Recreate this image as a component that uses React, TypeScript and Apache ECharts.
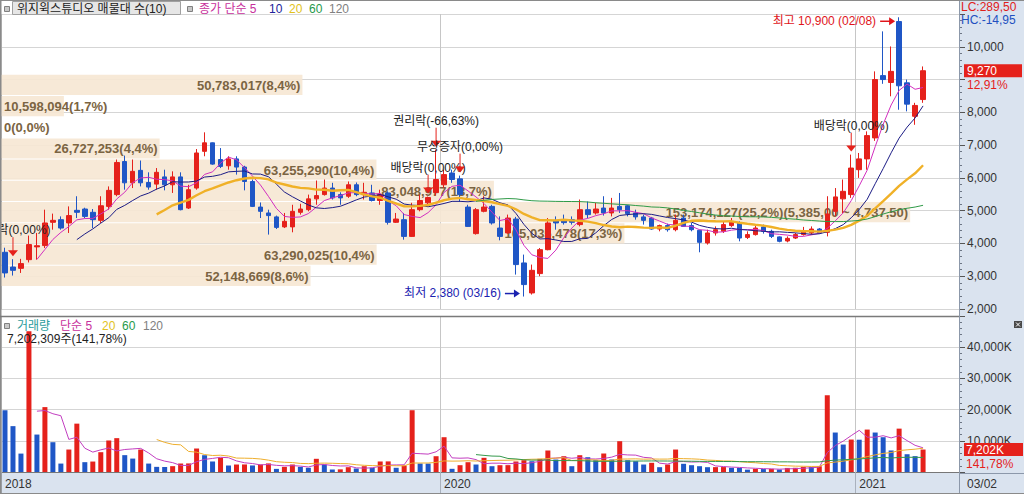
import React, { useEffect, useRef } from "react";
import * as echarts from "echarts";

// ---------- data ----------
const STOCK_NAME = "위지윅스튜디오";
const FIRST_WEEK = "2018-12-17";
const EXTRA_SLOTS = 4;
const LAST_DATE_LABEL = "03/02";

// weekly candles: [open, high, low, close]
const OHLC: number[][] = [
  [3730, 3870, 2960, 3100], [3280, 3520, 3020, 3180], [3240, 3530, 3100, 3385], [3505, 4240, 3420, 3965],
  [3895, 4320, 3505, 3930], [3935, 5030, 3860, 4625], [4645, 4910, 4420, 4705], [4725, 4825, 4420, 4470],
  [4625, 5130, 4320, 4850], [5010, 5440, 4775, 4950], [5050, 5090, 4775, 4825], [4950, 5050, 4470, 4725],
  [4705, 5440, 4625, 5150], [5130, 5740, 5030, 5620], [5490, 6560, 5440, 6470], [6500, 6680, 5640, 5850],
  [5850, 6560, 5690, 6200], [6230, 6530, 5740, 5850], [5860, 6170, 5640, 5720], [5810, 6300, 5640, 6170],
  [6030, 6250, 5620, 5790], [5790, 6200, 5540, 6030], [6030, 6170, 5010, 5030], [5080, 5790, 5050, 5640],
  [5690, 6880, 5640, 6760], [6810, 7390, 6660, 7070], [7070, 7080, 6400, 6420], [6560, 6910, 6300, 6350],
  [6370, 6660, 6250, 6580], [6580, 6660, 6100, 6330], [6330, 6370, 5620, 5890], [5890, 5950, 5110, 5130],
  [5110, 5250, 4775, 4980], [4930, 5030, 4270, 4850], [4810, 4850, 4440, 4490], [4505, 4930, 4470, 4675],
  [4505, 5180, 4340, 4980], [4950, 5210, 4880, 5050], [5030, 5490, 4980, 5360], [5360, 5920, 5180, 5460],
  [5490, 5950, 5460, 5690], [5690, 5850, 5340, 5390], [5490, 5560, 5180, 5390], [5440, 5890, 5390, 5790],
  [5790, 5860, 5440, 5490], [5490, 5850, 5340, 5560], [5540, 5790, 5280, 5310], [5310, 5640, 5180, 5490],
  [5540, 5590, 4575, 4645], [4645, 4930, 4625, 4745], [4725, 4930, 4115, 4215], [4215, 5240, 4200, 5030],
  [5030, 5490, 4980, 5310], [5240, 5430, 5150, 5400], [5550, 6860, 5460, 5950], [5790, 6250, 5700, 6100],
  [6150, 6250, 5850, 5950], [5970, 6070, 5280, 5490], [5110, 5180, 4505, 4520], [4300, 5080, 4270, 5030],
  [4980, 5440, 4950, 5110], [5130, 5180, 4575, 4625], [4470, 4825, 4095, 4215], [4320, 4880, 4300, 4775],
  [4745, 4810, 3050, 3355], [3405, 3660, 2380, 2745], [2490, 3355, 2440, 3180], [3080, 3860, 3000, 3810],
  [3810, 4775, 3790, 4625], [4705, 4825, 4420, 4625], [4725, 4880, 4575, 4635], [4725, 4825, 4575, 4645],
  [4575, 5340, 4520, 5030], [5030, 5280, 4775, 4880], [4930, 5240, 4880, 5050], [5080, 5440, 4850, 4930],
  [4930, 5390, 4825, 5080], [5130, 5540, 4930, 5030], [5150, 5180, 4825, 4910], [4930, 5030, 4725, 4810],
  [4810, 4880, 4575, 4705], [4775, 4810, 4420, 4440], [4440, 4575, 4370, 4545], [4545, 4605, 4360, 4420],
  [4420, 4880, 4370, 4705], [4775, 4880, 4520, 4520], [4545, 4625, 4370, 4420], [4400, 4420, 3730, 4035],
  [4015, 4420, 3965, 4320], [4320, 4520, 4240, 4420], [4370, 4675, 4320, 4575], [4545, 4775, 4505, 4675],
  [4625, 4675, 4065, 4165], [4185, 4370, 4135, 4270], [4270, 4575, 4240, 4470], [4505, 4575, 4300, 4370],
  [4370, 4420, 4165, 4215], [4200, 4215, 4035, 4065], [4075, 4215, 4035, 4155], [4165, 4320, 4135, 4270],
  [4270, 4505, 4240, 4370], [4320, 4520, 4270, 4440], [4440, 4470, 4300, 4320], [4340, 5440, 4215, 4900],
  [4980, 5690, 4825, 5420], [5360, 5950, 4930, 5590], [5490, 6710, 5390, 6300], [6250, 6760, 6000, 6580],
  [6580, 7420, 6250, 7290], [7220, 9250, 7130, 9000], [9120, 10470, 8870, 9000], [8910, 10010, 8490, 9250],
  [10770, 10900, 8080, 8810], [8900, 9000, 8030, 8250], [7880, 8290, 7620, 8210], [8390, 9400, 8290, 9270],
];

// weekly volume, thousand shares
const VOLUME_K: number[] = [
  19800, 14700, 5900, 45100, 12000, 20800, 9550, 2700, 7200, 15500, 3150, 3350, 6350, 10100, 10850, 5400,
  4300, 7200, 2700, 1650, 1600, 1870, 2720, 2750, 7530, 5380, 3370, 4550, 2080, 2400, 2420, 2100,
  2400, 2750, 1000, 1650, 2400, 1650, 1350, 4230, 2400, 800, 850, 1540, 1120, 1860, 1350, 3370,
  3400, 1350, 2080, 19800, 2720, 2700, 5060, 11150, 1020, 2180, 3140, 2400, 4550, 1860, 2180, 2200,
  3370, 3780, 3460, 4230, 6890, 4000, 5060, 1860, 5380, 4740, 3780, 5930, 4000, 9870, 3780, 3460,
  2400, 2950, 1540, 2400, 7200, 2630, 2180, 1860, 1540, 1560, 1580, 1350, 1300, 750, 1020, 950,
  1000, 800, 1300, 1350, 1650, 1600, 1850, 24600, 12650, 8800, 10400, 10350, 13600, 12650, 11150, 6900,
  13900, 5700, 5080, 7202.309,
];

// volume profile (매물대), bottom band first
const PROFILE_VOLUME = [52148669, 63290025, 105035478, 153174127, 83048977, 63255290, 26727253, 0, 10598094, 50783017];
const PROFILE_PCT = [8.6, 10.4, 17.3, 25.2, 13.7, 10.4, 4.4, 0.0, 1.7, 8.4];
const PROFILE_LOW = 2795;
const PROFILE_STEP = 647.5;

// corporate events
const EVENT_IDX = [1, 53, 54, 57, 106];
const EVENT_TEXT = ["배당락(0,00%)", "배당락(0,00%)", "권리락(-66,63%)", "무상증자(0,00%)", "배당락(0,00%)"];

const PRICE_MIN = 2000, PRICE_MAX = 11000, PRICE_STEP = 1000;
const VOL_MIN = 0, VOL_MAX = 50000, VOL_STEP = 10000;

// ---------- style ----------
const FONT = "'Liberation Sans','Noto Sans CJK KR',sans-serif";
const RED = "#e5211b";
const BLUE = "#1f56c6";
const AXIS_BG = "#dae3ef";
const BAND = "#f6e7d4";
const BAND_TEXT = "#7b6442";
const PROFILE_SHIFT = 3.5;
const PROFILE_SPAN = 0.949;

// ---------- helpers ----------
function buildWeeks(start: string, n: number): string[] {
  const out: string[] = [];
  const t0 = new Date(start + "T00:00:00Z").getTime();
  for (let i = 0; i < n; i++) out.push(new Date(t0 + i * 7 * 86400000).toISOString().slice(0, 10));
  return out;
}
const CATEGORIES = buildWeeks(FIRST_WEEK, OHLC.length + EXTRA_SLOTS);

const YEAR_MARKS: number[] = (() => {
  const marks = [0];
  for (let i = 1; i < OHLC.length; i++) {
    if (CATEGORIES[i].slice(0, 4) !== CATEGORIES[i - 1].slice(0, 4) && i - marks[marks.length - 1] > 6) marks.push(i);
  }
  return marks;
})();
const isYearMark = (i: number) => YEAR_MARKS.indexOf(i) >= 0;

const fmtInt = (v: number) => Math.round(v).toLocaleString("en-US");
const fmtDec = (v: number, d: number) => {
  const neg = v < 0;
  const [a, b] = Math.abs(v).toFixed(d).split(".");
  return (neg ? "-" : "") + Number(a).toLocaleString("en-US") + (b ? "," + b : "");
};
const sma = (arr: number[], n: number) =>
  arr.map((_, i) => (i < n - 1 ? "-" : arr.slice(i - n + 1, i + 1).reduce((s, v) => s + v, 0) / n));

let measureCtx: CanvasRenderingContext2D | null = null;
const measure = (t: string, font: string) => {
  if (!measureCtx) measureCtx = document.createElement("canvas").getContext("2d");
  if (!measureCtx) return t.length * 7;
  measureCtx.font = font;
  return measureCtx.measureText(t).width;
};

const txt = (text: string, x: number, y: number, fill: string, font: string, align = "left", valign = "middle") => ({
  text, x, y, fill, font, align, verticalAlign: valign, textAlign: align, textVerticalAlign: valign,
});

function buildOption() {
  const closes = OHLC.map((d) => d[3]);
  const n = OHLC.length;
  const last = n - 1;
  const lastClose = closes[last];
  const prevClose = closes[last - 1];
  let hiIdx = 0, loIdx = 0;
  OHLC.forEach((d, i) => {
    if (d[1] > OHLC[hiIdx][1]) hiIdx = i;
    if (d[2] < OHLC[loIdx][2]) loIdx = i;
  });
  const hiVal = OHLC[hiIdx][1];
  const loVal = OHLC[loIdx][2];
  const mmdd = (i: number) => CATEGORIES[i].slice(5, 7) + "/" + CATEGORIES[i].slice(8, 10);
  const maxProfile = Math.max(...PROFILE_VOLUME);
  const maxProfileIdx = PROFILE_VOLUME.indexOf(maxProfile);
  const lastVol = VOLUME_K[last];
  const volPct = (lastVol / VOLUME_K[last - 1]) * 100;

  const profileFont = `bold 13px ${FONT}`;
  const f12 = `12px ${FONT}`;

  const xBase = (grid: number, showLabels: boolean) => ({
    gridIndex: grid,
    type: "category",
    data: CATEGORIES,
    boundaryGap: true,
    axisLine: { show: showLabels, lineStyle: { color: "#777" } },
    axisTick: { show: showLabels, interval: (i: number) => isYearMark(i), length: 22, lineStyle: { color: "#a9b1bd" } },
    axisLabel: {
      show: showLabels,
      interval: (i: number) => isYearMark(i),
      formatter: (v: string) => v.slice(0, 4),
      align: "left",
      margin: 6,
      color: "#333",
      fontSize: 12,
      fontFamily: FONT,
    },
    splitLine: { show: true, interval: (i: number) => isYearMark(i), lineStyle: { color: "#c6c6c6" } },
  });

  const yBase = (grid: number, min: number, max: number, step: number, fmt: (v: number) => string, showMin: boolean) => ({
    gridIndex: grid,
    type: "value",
    position: "right",
    min, max, interval: step,
    axisLine: { show: true, lineStyle: { color: "#8c98aa" } },
    axisTick: { show: true, length: 6, lineStyle: { color: "#555" } },
    minorTick: { show: true, splitNumber: 5, length: 3, lineStyle: { color: "#6d7685" } },
    axisLabel: { color: "#333", fontSize: 12, fontFamily: FONT, margin: 8, showMaxLabel: false, showMinLabel: showMin, formatter: fmt },
    splitLine: { show: true, lineStyle: { color: "#d5d5d5" } },
  });

  const line = (data: any[], color: string, width: number, xi: number, z = 4) => ({
    type: "line", data, xAxisIndex: xi, yAxisIndex: xi, symbol: "none", showSymbol: false, silent: true, z,
    lineStyle: { color, width }, emphasis: { disabled: true },
  });

  const annData = [
    ...EVENT_IDX.map((idx, k) => [idx, OHLC[idx][1], 0, k]),
    [hiIdx, hiVal, 1, 0],
    [loIdx, loVal, 2, 0],
  ];

  // price axis labels hidden behind the last-price badge
  const priceLabel = (v: number) => (Math.abs(v - lastClose) < PRICE_STEP * 0.4 ? "" : fmtInt(v));

  const series: any[] = [
    {
      type: "custom", name: "profile", xAxisIndex: 0, yAxisIndex: 0, z: 1, silent: true, clip: false,
      data: PROFILE_VOLUME.map((_, i) => [0, PROFILE_LOW + (i + 0.5) * PROFILE_STEP]),
      encode: { x: 0, y: 1 },
      renderItem: (params: any, api: any) => {
        const i = params.dataIndex;
        const cs = params.coordSys;
        const lo = PROFILE_LOW + i * PROFILE_STEP;
        const hi = lo + PROFILE_STEP;
        const yTop = api.coord([0, hi])[1] + PROFILE_SHIFT;
        const yBot = api.coord([0, lo])[1] + PROFILE_SHIFT;
        const w = (PROFILE_VOLUME[i] / maxProfile) * cs.width * PROFILE_SPAN;
        let text = `${fmtInt(PROFILE_VOLUME[i])}(${fmtDec(PROFILE_PCT[i], 1)}%)`;
        if (i === maxProfileIdx) text += `(${fmtDec(hi, 2)} ~ ${fmtDec(lo, 2)})`;
        const fits = measure(text, profileFont) + 6 <= w;
        const tx = fits ? cs.x + w - 2 : cs.x + 3;
        return {
          type: "group",
          children: [
            { type: "rect", shape: { x: cs.x, y: yTop + 0.5, width: w, height: yBot - yTop - 1 }, style: { fill: BAND, opacity: 0.93 } },
            { type: "text", style: txt(text, tx, (yTop + yBot) / 2 + 0.5, BAND_TEXT, profileFont, fits ? "right" : "left") },
          ],
        };
      },
    },
    {
      type: "candlestick", name: "price", xAxisIndex: 0, yAxisIndex: 0, z: 3, silent: true, barWidth: 5,
      data: OHLC.map(([o, h, l, c]) => [o, c, l, h]),
      itemStyle: { color: RED, color0: BLUE, borderColor: RED, borderColor0: BLUE, borderWidth: 1 },
    },
    line(sma(closes, 5), "#d22fbf", 1, 0, 5),
    line(sma(closes, 10), "#1c1c85", 1, 0, 5),
    line(sma(closes, 20), "#f0b128", 2.4, 0, 5),
    line(sma(closes, 60), "#2f9a47", 1, 0, 5),
    line(sma(closes, 120), "#8a8a8a", 1, 0, 5),
    {
      type: "custom", name: "events", xAxisIndex: 0, yAxisIndex: 0, z: 8, silent: true, clip: false,
      data: annData, encode: { x: 0, y: 1 },
      renderItem: (params: any, api: any) => {
        const idx = api.value(0), price = api.value(1), kind = api.value(2), k = api.value(3);
        const [x, y] = api.coord([idx, price]);
        if (kind === 0) {
          const tip = y - 3, start = tip - 19;
          return {
            type: "group",
            children: [
              { type: "line", shape: { x1: x, y1: start, x2: x, y2: tip - 5 }, style: { stroke: RED, lineWidth: 1 } },
              { type: "polygon", shape: { points: [[x - 5, tip - 6], [x + 5, tip - 6], [x, tip]] }, style: { fill: RED } },
              { type: "text", style: txt(EVENT_TEXT[k], x, start - 7, "#222", f12, "center") },
            ],
          };
        }
        const isHi = kind === 1;
        const col = isHi ? "#e0141a" : "#1a22b0";
        const ay = isHi ? y + 4 : y - 3;
        const label = `${isHi ? "최고" : "최저"} ${fmtInt(price)} (${mmdd(idx)})`;
        return {
          type: "group",
          children: [
            { type: "line", shape: { x1: x - 19, y1: ay, x2: x - 9, y2: ay }, style: { stroke: col, lineWidth: 1.5 } },
            { type: "polygon", shape: { points: [[x - 10, ay - 4], [x - 10, ay + 4], [x - 4, ay]] }, style: { fill: col } },
            { type: "text", style: txt(label, x - 23, ay - 0.5, col, f12, "right") },
          ],
        };
      },
    },
    {
      type: "custom", name: "priceBadge", xAxisIndex: 0, yAxisIndex: 0, z: 8, silent: true, clip: false,
      data: [[last, lastClose]], encode: { x: 0, y: 1 },
      renderItem: (params: any, api: any) => {
        const cs = params.coordSys;
        const y = api.coord([api.value(0), api.value(1)])[1];
        const x0 = cs.x + cs.width + 5;
        return {
          type: "group",
          children: [
            { type: "rect", shape: { x: x0, y: y - 6.5, width: 58, height: 13 }, style: { fill: RED } },
            { type: "text", style: txt(fmtInt(lastClose), x0 + 3, y + 0.5, "#fff", f12) },
            { type: "text", style: txt(`${fmtDec((lastClose / prevClose - 1) * 100, 2)}%`, x0 + 3, y + 14, RED, f12) },
          ],
        };
      },
    },
    {
      type: "bar", name: "volume", xAxisIndex: 1, yAxisIndex: 1, barWidth: 5, silent: true, z: 3,
      data: VOLUME_K.map((v, i) => ({ value: v, itemStyle: { color: i > 0 && v > VOLUME_K[i - 1] ? RED : BLUE } })),
    },
    line(sma(VOLUME_K, 5), "#c23ec0", 1, 1),
    line(sma(VOLUME_K, 20), "#eeae2c", 1, 1),
    line(sma(VOLUME_K, 60), "#35994c", 1, 1),
    {
      type: "custom", name: "volBadge", xAxisIndex: 1, yAxisIndex: 1, z: 8, silent: true, clip: false,
      data: [[last, lastVol]], encode: { x: 0, y: 1 },
      renderItem: (params: any, api: any) => {
        const cs = params.coordSys;
        const y = api.coord([api.value(0), api.value(1)])[1];
        const x0 = cs.x + cs.width + 5;
        return {
          type: "group",
          children: [
            { type: "rect", shape: { x: x0, y: y - 6.5, width: 59, height: 13 }, style: { fill: RED } },
            { type: "text", style: txt(`${fmtInt(lastVol)}K`, x0 + 2, y + 0.5, "#fff", f12) },
            { type: "text", style: txt(`${fmtDec(volPct, 2)}%`, x0 + 2, y + 14, RED, f12) },
          ],
        };
      },
    },
  ];

  const lc = (lastClose / loVal - 1) * 100;
  const hc = (lastClose / hiVal - 1) * 100;

  const legendPieces = (items: [string, string, number][], y: number) =>
    items.map(([t, c, x]) => ({ type: "text", z: 60, silent: true, style: txt(t, x, y, c, f12) }));

  const graphic: any[] = [
    { type: "rect", z: -10, silent: true, shape: { x: 959, y: 0, width: 65, height: 494 }, style: { fill: AXIS_BG } },
    { type: "rect", z: -10, silent: true, shape: { x: 0, y: 473, width: 959, height: 21 }, style: { fill: AXIS_BG } },
    { type: "line", z: 50, silent: true, shape: { x1: 959.5, y1: 0, x2: 959.5, y2: 494 }, style: { stroke: "#8c98aa", lineWidth: 1 } },
    { type: "line", z: 50, silent: true, shape: { x1: 0, y1: 0.5, x2: 1024, y2: 0.5 }, style: { stroke: "#8a8a8a", lineWidth: 1 } },
    { type: "line", z: 50, silent: true, shape: { x1: 0.75, y1: 0, x2: 0.75, y2: 494 }, style: { stroke: "#8a8a8a", lineWidth: 1.5 } },
    { type: "line", z: 50, silent: true, shape: { x1: 0, y1: 316.5, x2: 959, y2: 316.5 }, style: { stroke: "#7a7a7a", lineWidth: 1.5 } },
    { type: "line", z: 50, silent: true, shape: { x1: 959, y1: 473.5, x2: 1024, y2: 473.5 }, style: { stroke: "#8c98aa", lineWidth: 1 } },
    { type: "line", z: 50, silent: true, shape: { x1: 0, y1: 493.5, x2: 1024, y2: 493.5 }, style: { stroke: "#8a8a8a", lineWidth: 1 } },
    { type: "text", z: 60, silent: true, style: txt(LAST_DATE_LABEL, 967, 483.5, "#333", f12) },
    // price legend
    { type: "rect", z: 60, silent: true, shape: { x: 4.5, y: 6.5, width: 5, height: 5 }, style: { fill: "#c8c8c8", stroke: "#808080", lineWidth: 1 } },
    { type: "rect", z: 60, silent: true, shape: { x: 12.5, y: 1.5, width: 168, height: 13 }, style: { fill: "#e6e6e6", stroke: "#a0a0a0", lineWidth: 1 } },
    { type: "text", z: 61, silent: true, style: txt(`${STOCK_NAME} 매물대 수(${PROFILE_VOLUME.length})`, 17, 8.5, "#222", f12) },
    { type: "rect", z: 60, silent: true, shape: { x: 187.5, y: 6.5, width: 5, height: 5 }, style: { fill: "#c8c8c8", stroke: "#808080", lineWidth: 1 } },
    ...legendPieces([
      ["종가 단순 5", "#c8309c", 199],
      ["10", "#22229a", 269],
      ["20", "#e2c21c", 289],
      ["60", "#279a4b", 309],
      ["120", "#808080", 329],
    ], 8.5),
    { type: "text", z: 60, silent: true, style: txt(`LC:${fmtDec(lc, 2)}`, 961, 7, "#e0201a", f12) },
    { type: "text", z: 60, silent: true, style: txt(`HC:${fmtDec(hc, 2)}`, 961, 20, "#2150c0", f12) },
    // volume legend
    { type: "rect", z: 60, silent: true, shape: { x: 4.5, y: 323.5, width: 5, height: 5 }, style: { fill: "#c8c8c8", stroke: "#808080", lineWidth: 1 } },
    ...legendPieces([
      ["거래량", "#2a9c9c", 17],
      ["단순 5", "#c8309c", 60],
      ["20", "#e2c21c", 102],
      ["60", "#279a4b", 122],
      ["120", "#808080", 143],
    ], 326),
    { type: "text", z: 60, silent: true, style: txt(`${fmtInt(lastVol * 1000)}주(${fmtDec(volPct, 2)}%)`, 7, 339, "#222", f12) },
    // panel close box
    { type: "rect", z: 60, silent: true, shape: { x: 1014, y: 321, width: 8, height: 7 }, style: { fill: "#4a4a4a" } },
    { type: "line", z: 61, silent: true, shape: { x1: 1016, y1: 322.5, x2: 1020, y2: 326.5 }, style: { stroke: "#fff", lineWidth: 1 } },
    { type: "line", z: 61, silent: true, shape: { x1: 1020, y1: 322.5, x2: 1016, y2: 326.5 }, style: { stroke: "#fff", lineWidth: 1 } },
  ];

  return {
    animation: false,
    backgroundColor: "#ffffff",
    textStyle: { fontFamily: FONT },
    grid: [
      { left: 1, top: 14, width: 958, height: 295 },
      { left: 1, top: 316, width: 958, height: 156 },
    ],
    xAxis: [xBase(0, false), xBase(1, true)],
    yAxis: [
      yBase(0, PRICE_MIN, PRICE_MAX, PRICE_STEP, priceLabel, true),
      yBase(1, VOL_MIN, VOL_MAX, VOL_STEP, (v: number) => `${fmtInt(v)}K`, false),
    ],
    series,
    graphic,
  };
}

export default function App() {
  const ref = useRef<HTMLDivElement>(null);
  useEffect(() => {
    document.body.style.margin = "0";
    if (!ref.current) return;
    const chart = echarts.init(ref.current, undefined, { renderer: "svg" });
    chart.setOption(buildOption() as any);
    return () => chart.dispose();
  }, []);
  return <div ref={ref} style={{ width: 1024, height: 494 }} />;
}
